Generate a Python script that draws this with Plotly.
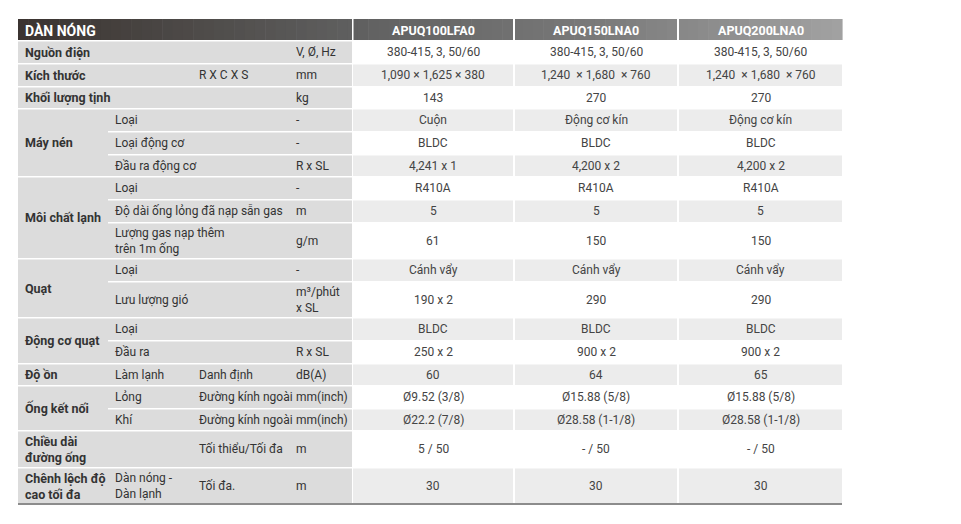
import plotly.graph_objects as go

# table content
title = "DÀN NÓNG"
models = ["APUQ100LFA0", "APUQ150LNA0", "APUQ200LNA0"]

groups = ["Nguồn điện", "Kích thước", "Khối lượng tịnh",
          "Máy nén", "Máy nén", "Máy nén",
          "Môi chất lạnh", "Môi chất lạnh", "Môi chất lạnh",
          "Quạt", "Quạt",
          "Động cơ quạt", "Động cơ quạt",
          "Độ ồn",
          "Ống kết nối", "Ống kết nối",
          "Chiều dài<br>đường ống",
          "Chênh lệch độ<br>cao tối đa"]
subs = ["", "", "",
        "Loại", "Loại động cơ", "Đầu ra động cơ",
        "Loại", "Độ dài ống lỏng đã nạp sẵn gas", "Lượng gas nạp thêm<br>trên 1m ống",
        "Loại", "Lưu lượng gió",
        "Loại", "Đầu ra",
        "Làm lạnh",
        "Lỏng", "Khí",
        "",
        "Dàn nóng -<br>Dàn lạnh"]
details = ["", "R X C X S", "", "", "", "", "", "", "", "", "", "", "",
           "Danh định", "Đường kính ngoài", "Đường kính ngoài",
           "Tối thiểu/Tối đa", "Tối đa."]
units = ["V, Ø, Hz", "mm", "kg", "-", "-", "R x SL", "-", "m", "g/m", "-",
         "m³/phút<br>x SL", "", "R x SL", "dB(A)", "mm(inch)", "mm(inch)", "m", "m"]

val_100 = ["380-415, 3, 50/60", "1,090 × 1,625 × 380", "143", "Cuộn", "BLDC",
           "4,241 x 1", "R410A", "5", "61", "Cánh vẩy", "190 x 2", "BLDC",
           "250 x 2", "60", "Ø9.52 (3/8)", "Ø22.2 (7/8)", "5 / 50", "30"]
val_150 = ["380-415, 3, 50/60", "1,240  × 1,680  × 760", "270", "Động cơ kín", "BLDC",
           "4,200 x 2", "R410A", "5", "150", "Cánh vẩy", "290", "BLDC",
           "900 x 2", "64", "Ø15.88 (5/8)", "Ø28.58 (1-1/8)", "- / 50", "30"]
val_200 = ["380-415, 3, 50/60", "1,240  × 1,680  × 760", "270", "Động cơ kín", "BLDC",
           "4,200 x 2", "R410A", "5", "150", "Cánh vẩy", "290", "BLDC",
           "900 x 2", "65", "Ø15.88 (5/8)", "Ø28.58 (1-1/8)", "- / 50", "30"]
values = [val_100, val_150, val_200]

# geometry (pixels of the page)
W, H = 961, 524
OFF = 8  # page body margin
COL_A, COL_B, COL_C, COL_D, LABEL_END = 18, 108, 193, 290, 352
VAL_COLS = [(353, 513), (515, 677), (679, 842)]
HEAD_TOP, HEAD_BOT = 19, 40
ROW_H = [23, 23, 22, 23, 23, 22, 23, 23, 36, 23, 36, 23, 23, 22, 23, 22, 37, 37]
GAP = 1.5
PAD = 5

FONT = "Roboto"
SIZE = 12
TXT = "#333333"
VAL_TXT = "#444444"
LABEL_BG = "#dcdcdc"
ROW_GREY = "#ececec"

tops = [HEAD_BOT]
for h in ROW_H:
    tops.append(tops[-1] + h)

shapes = []
annotations = []


def rect(x0, x1, y0, y1, color):
    shapes.append(dict(type="rect", xref="x", yref="y", x0=x0, x1=x1, y0=y0, y1=y1,
                       fillcolor=color, line=dict(width=0), layer="below"))


def text(x, y, s, anchor="left", bold=False, size=SIZE, color=TXT):
    annotations.append(dict(x=x, y=y, xref="x", yref="y", text=f"<b>{s}</b>" if bold else s,
                            showarrow=False, xanchor=anchor, yanchor="middle", align=anchor,
                            font=dict(family=FONT, size=size, color=color)))


def lerp_color(x):
    stops = [(18, (58, 51, 48)), (200, (78, 75, 73)), (350, (95, 95, 95)),
             (600, (122, 122, 122)), (842, (162, 162, 162))]
    for (xa, ca), (xb, cb) in zip(stops, stops[1:]):
        if xa <= x <= xb:
            t = (x - xa) / (xb - xa)
            c = [round(a + (b - a) * t) for a, b in zip(ca, cb)]
            return "rgb({},{},{})".format(*c)
    return "rgb(162,162,162)"


# header gradient
n_seg = 80
step = (VAL_COLS[-1][1] - COL_A) / n_seg
for i in range(n_seg):
    x0 = COL_A + i * step
    rect(x0, x0 + step + 0.6, HEAD_TOP, HEAD_BOT, lerp_color(x0 + step / 2))
for x0, x1 in [(LABEL_END, VAL_COLS[0][0] + 0.5), (VAL_COLS[0][1], VAL_COLS[1][0]),
               (VAL_COLS[1][1], VAL_COLS[2][0])]:
    rect(x0, x1, HEAD_TOP, HEAD_BOT, "white")

mid_head = (HEAD_TOP + HEAD_BOT) / 2
text(COL_A + PAD, mid_head + 0.5, title, bold=True, size=14, color="white")
for (x0, x1), m in zip(VAL_COLS, models):
    text((x0 + x1) / 2, mid_head + 0.5, m, anchor="center", bold=True, size=12.5, color="white")

# body rows
n = len(groups)
for i in range(n):
    y0, y1 = tops[i] + GAP, tops[i + 1]
    ym = (tops[i] + GAP + tops[i + 1]) / 2
    rect(COL_B, LABEL_END, y0, y1, LABEL_BG)
    fill = ROW_GREY if i % 2 else "white"
    for (x0, x1), vals in zip(VAL_COLS, values):
        rect(x0, x1, y0, y1, fill)
        text((x0 + x1) / 2, ym, vals[i], anchor="center", color=VAL_TXT)
    if subs[i]:
        text(COL_B + 5, ym, subs[i])
    if details[i]:
        text(COL_C + 4, ym, details[i])
    if units[i]:
        text(COL_D + 4, ym, units[i])

# merged group cells
i = 0
while i < n:
    j = i
    while j + 1 < n and groups[j + 1] == groups[i]:
        j += 1
    y0, y1 = tops[i] + GAP, tops[j + 1]
    rect(COL_A, COL_B, y0, y1, LABEL_BG)
    text(COL_A + PAD, (y0 + y1) / 2, groups[i], bold=True, size=12.5)
    i = j + 1

# bottom rule
shapes.append(dict(type="line", xref="x", yref="y", x0=COL_A, x1=VAL_COLS[-1][1],
                   y0=tops[-1], y1=tops[-1], line=dict(color="#8c8c8c", width=2)))

fig = go.Figure()
fig.update_layout(
    width=W, height=H,
    margin=dict(l=0, r=0, t=0, b=0),
    paper_bgcolor="white", plot_bgcolor="white",
    xaxis=dict(range=[OFF, W + OFF], visible=False, fixedrange=True),
    yaxis=dict(range=[H + OFF, OFF], visible=False, fixedrange=True),
    shapes=shapes, annotations=annotations,
    showlegend=False,
)
fig.write_html("out.html")
